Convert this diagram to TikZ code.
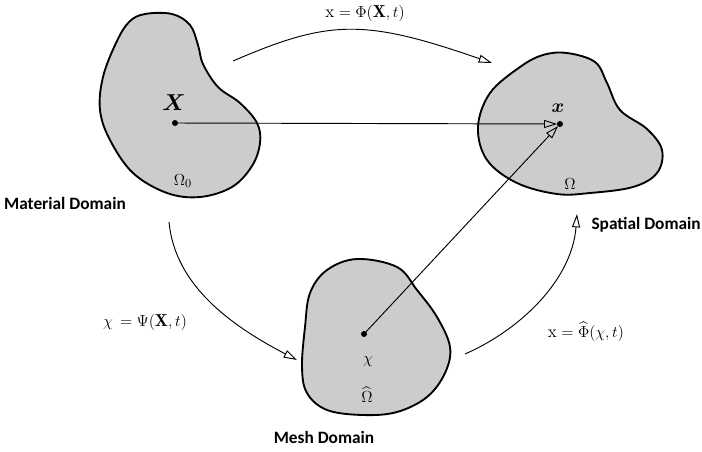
\documentclass[tikz,border=0pt]{standalone}
\usepackage{amsmath,bm}
\usepackage{fontspec}
\newfontfamily\lblfont{Carlito}
\usetikzlibrary{arrows.meta}
\tikzset{
  blob/.style={draw=black, fill=black!20, line width=1.4pt},
  maparrow/.style={line width=0.7pt, -{Triangle[open, length=10pt, width=6pt]}},
  domlabel/.style={font=\lblfont\bfseries\fontsize{13}{15}\selectfont, inner sep=0pt},
  mathlabel/.style={font=\fontsize{13}{15}\selectfont, inner sep=0pt},
  ptdot/.style={fill=black, circle, inner sep=0pt, minimum size=4.5pt}
}
\begin{document}
\begin{tikzpicture}[x=0.75pt, y=-0.75pt]
\useasboundingbox (0,0) rectangle (702,451);
% blobs
\draw[blob] plot[smooth cycle, tension=0.6] coordinates {
 (145,14) (172,14) (190,25) (198,45) (203,64) (218,87) (240,103) (257,123) (260,143)
 (252,166) (232,187) (200,197) (167,193) (133,173) (110,140) (100,110) (103,77) (116,43) (129,22)};
\draw[blob] plot[smooth cycle, tension=0.6] coordinates {
 (567,53) (595,62) (607,83) (620,110) (647,129) (662,150) (657,173) (633,187) (590,193)
 (557,194) (517,183) (487,160) (478,127) (490,93) (520,67) (543,55)};
\draw[blob] plot[smooth cycle, tension=0.6] coordinates {
 (357,259) (397,267) (417,290) (437,317) (450,347) (445,373) (427,397) (397,412) (363,415)
 (327,410) (307,393) (302,367) (305,327) (310,293) (327,270)};
% points
\node[ptdot] (X) at (175,123) {};
\node[ptdot] (x) at (560,124) {};
\node[ptdot] (chi) at (364,334) {};
% labels inside
\node[mathlabel, font=\fontsize{16}{18}\selectfont] (Xl) at (174,103) {$\bm{X}$};
\node[mathlabel, font=\fontsize{15}{17}\selectfont] (xl) at (558,108) {$\bm{x}$};
\node[mathlabel] (O0) at (183,181) {$\Omega_0$};
\node[mathlabel] (O) at (570,184) {$\Omega$};
\node[mathlabel] (chil) at (368,362) {$\chi$};
\node[mathlabel] (Oh) at (367,395) {$\widehat{\Omega}$};
% domain labels
\node[domlabel] (md) at (65,203) {Material Domain};
\node[domlabel, anchor=east] (sd) at (701,225) {Spatial Domain};
\node[domlabel] (mshd) at (324,437) {Mesh Domain};
% map labels
\node[mathlabel] (phi) at (365,13) {$\mathrm{x}=\Phi(\mathbf{X},t)$};
\node[mathlabel] (psi) at (145,322) {$\chi\,=\Psi(\mathbf{X},t)$};
\node[mathlabel] (phih) at (586,332) {$\mathrm{x}=\widehat{\Phi}(\chi,t)$};
% arrows
\coordinate (a1s) at (233,61);
\coordinate (a1e) at (492,63);
\coordinate (a2s) at (169,222);
\coordinate (a2e) at (297,360);
\coordinate (a3s) at (465,354);
\coordinate (a3e) at (577,214);
\draw[maparrow] (a1s) .. controls (330,19) and (365,19) .. (a1e);
\draw[maparrow] (a2s) .. controls (175,285) and (230,325) .. (a2e);
\draw[maparrow] (a3s) .. controls (520,330) and (572,280) .. (a3e);
\draw[maparrow, shorten >=2pt] (X.center) -- (x.center);
\draw[maparrow, shorten >=2pt] (chi.center) -- (x.center);
\end{tikzpicture}
\end{document}
